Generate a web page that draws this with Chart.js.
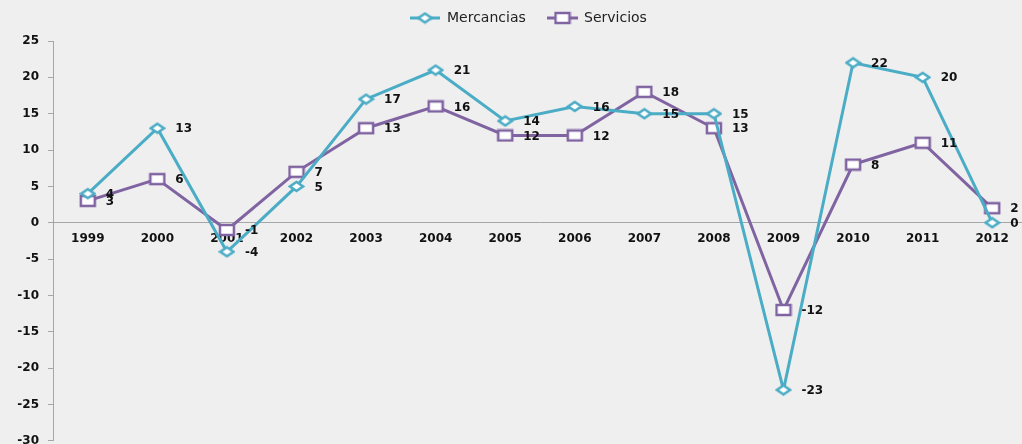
<!DOCTYPE html>
<html><head><meta charset="utf-8">
<script src="https://cdn.jsdelivr.net/npm/chart.js@4.4.0/dist/chart.umd.min.js"></script>
<style>
html,body{margin:0;padding:0;background:#efefef;overflow:hidden;width:1022px;height:444px}
#wrap{width:1036px;height:457px;position:relative}
</style></head><body><div id="wrap"><canvas id="c"></canvas></div>
<script>
const years = ['1999','2000','2001','2002','2003','2004','2005','2006','2007','2008','2009','2010','2011','2012'];
const mercancias = [4,13,-4,5,17,21,14,16,15,15,-23,22,20,0];
const servicios = [3,6,-1,7,13,16,12,12,18,13,-12,8,11,2];
const seriesNames = ['Mercancias','Servicios'];
const yMin = -30, yMax = 25, yStep = 5;

const TEAL = '#4bacc6', PURPLE = '#8064a2';
const FONT = "'DejaVu Sans', sans-serif";

function makeMarker(shape, w, h, color) {
  const c = document.createElement('canvas');
  c.width = w + 4; c.height = h + 4;
  const g = c.getContext('2d');
  const cx = c.width / 2, cy = c.height / 2;
  g.lineWidth = 2.5; g.strokeStyle = color; g.fillStyle = '#ffffff';
  g.beginPath();
  if (shape === 'diamond') {
    g.moveTo(cx, cy - h / 2); g.lineTo(cx + w / 2, cy); g.lineTo(cx, cy + h / 2); g.lineTo(cx - w / 2, cy); g.closePath();
  } else {
    g.rect(cx - w / 2, cy - h / 2, w, h);
  }
  g.fill(); g.stroke();
  return c;
}
const diamond = makeMarker('diamond', 13, 9, TEAL);
const square = makeMarker('square', 14, 10, PURPLE);

const legendPlugin = {
  id: 'customLegend',
  afterDraw(chart) {
    const ctx = chart.ctx;
    ctx.save();
    const y = 18;
    const items = [
      {x0: 410, x1: 440, text: seriesNames[0], tx: 447, color: TEAL, img: diamond},
      {x0: 547, x1: 578, text: seriesNames[1], tx: 584, color: PURPLE, img: square}
    ];
    ctx.font = "14px " + FONT;
    ctx.textBaseline = 'middle';
    ctx.textAlign = 'left';
    items.forEach(it => {
      ctx.strokeStyle = it.color; ctx.lineWidth = 3;
      ctx.beginPath(); ctx.moveTo(it.x0, y); ctx.lineTo(it.x1, y); ctx.stroke();
      const mx = (it.x0 + it.x1) / 2;
      ctx.drawImage(it.img, mx - it.img.width / 2, y - it.img.height / 2);
      ctx.fillStyle = '#222';
      ctx.fillText(it.text, it.tx, y);
    });
    ctx.restore();
  }
};

const labelPlugin = {
  id: 'pointLabels',
  afterDatasetsDraw(chart) {
    const ctx = chart.ctx;
    ctx.save();
    ctx.font = "bold 12px " + FONT;
    ctx.fillStyle = '#111';
    ctx.textBaseline = 'middle';
    ctx.textAlign = 'left';
    chart.data.datasets.forEach((ds, i) => {
      const meta = chart.getDatasetMeta(i);
      meta.data.forEach((pt, j) => {
        ctx.fillText(String(ds.data[j]), pt.x + 18, pt.y + 1);
      });
    });
    ctx.restore();
  }
};

new Chart(document.getElementById('c'), {
  type: 'line',
  data: {
    labels: years,
    datasets: [
      {label: seriesNames[0], data: mercancias, borderColor: TEAL, borderWidth: 3, pointStyle: diamond, pointRadius: 6, tension: 0, clip: false},
      {label: seriesNames[1], data: servicios, borderColor: PURPLE, borderWidth: 3, pointStyle: square, pointRadius: 6, tension: 0, clip: false}
    ]
  },
  options: {
    responsive: true,
    maintainAspectRatio: false,
    animation: false,
    events: [],
    layout: {padding: {top: 41, bottom: 9, left: 0, right: 4}},
    plugins: {legend: {display: false}, tooltip: {enabled: false}},
    scales: {
      x: {
        type: 'category',
        offset: true,
        position: {y: 0},
        afterFit(s) { s.height = 0; },
        grid: {display: true, drawOnChartArea: false, drawTicks: false},
        border: {display: true, color: '#a6a6a6', width: 1},
        ticks: {padding: 9, font: {family: FONT, size: 12, weight: 'bold'}, color: '#111', maxRotation: 0, autoSkip: false}
      },
      y: {
        min: yMin, max: yMax,
        afterFit(s) { s.width = 53; },
        grid: {display: true, drawOnChartArea: false, drawTicks: true, tickLength: 5, color: '#a6a6a6'},
        border: {display: true, color: '#a6a6a6', width: 1},
        ticks: {stepSize: yStep, padding: 9, font: {family: FONT, size: 12, weight: 'bold'}, color: '#111'}
      }
    }
  },
  plugins: [legendPlugin, labelPlugin]
});
</script></body></html>
